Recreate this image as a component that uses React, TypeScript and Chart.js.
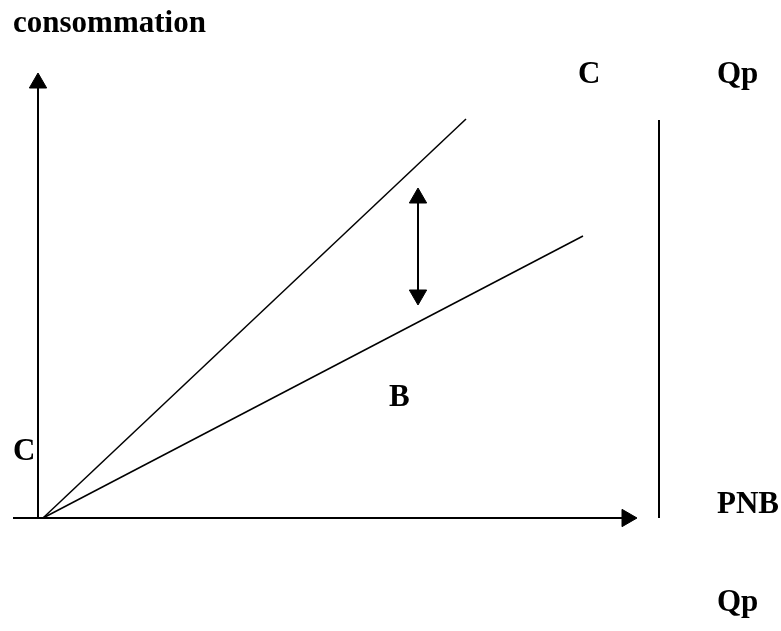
import React, { useEffect, useRef } from "react";
import { Chart, registerables } from "chart.js";

Chart.register(...registerables);

// Conceptual data space: origin at the axes intersection, x = PNB, y = consommation
const X_MIN = -38;
const X_MAX = 743;
const Y_MIN = -113;
const Y_MAX = 518;

const yAxisLine = [{ x: 0, y: 0 }, { x: 0, y: 432 }];
const yAxisHead = [{ x: 0, y: 435 }];
const xAxisLine = [{ x: -25, y: 0 }, { x: 586, y: 0 }];
const xAxisHead = [{ x: 589, y: 0 }];
const consumptionC = [{ x: 5, y: 0 }, { x: 428, y: 399 }];
const consumptionB = [{ x: 5, y: 0 }, { x: 545, y: 282 }];
const gapLine = [{ x: 380, y: 320 }, { x: 380, y: 223 }];
const gapHeadUp = [{ x: 380, y: 320 }];
const gapHeadDown = [{ x: 380, y: 223 }];
const qpLine = [{ x: 621, y: 0 }, { x: 621, y: 398 }];

const labelTexts = ["consommation", "C", "Qp", "B", "C", "PNB", "Qp"];
const labelX = [-25, 540, 679, 351, -25, 679, 679];
const labelY = [486, 435, 435, 112, 58, 5, -93];

const labelPlugin = {
  id: "labels",
  afterDraw(chart: any) {
    const ctx = chart.ctx;
    const xs = chart.scales.x;
    const ys = chart.scales.y;
    ctx.save();
    ctx.fillStyle = "#000";
    ctx.font = "bold 31px 'Liberation Serif', 'Times New Roman', serif";
    ctx.textAlign = "left";
    ctx.textBaseline = "alphabetic";
    labelTexts.forEach((t, i) => {
      ctx.fillText(t, xs.getPixelForValue(labelX[i]), ys.getPixelForValue(labelY[i]));
    });
    ctx.restore();
  },
};

function lineDs(data: any[], width: number) {
  return {
    type: "line" as const,
    data,
    borderColor: "#000",
    borderWidth: width,
    pointRadius: 0,
    fill: false,
    tension: 0,
  };
}

function headDs(data: any[], rotation: number, radius: number) {
  return {
    type: "scatter" as const,
    data,
    pointStyle: "triangle",
    pointRotation: rotation,
    pointRadius: radius,
    backgroundColor: "#000",
    borderColor: "#000",
    borderWidth: 1,
  };
}

export default function App() {
  const ref = useRef<HTMLCanvasElement | null>(null);
  useEffect(() => {
    if (!ref.current) return;
    const chart = new Chart(ref.current, {
      type: "line",
      data: {
        datasets: [
          lineDs(yAxisLine, 2),
          headDs(yAxisHead, 0, 10),
          lineDs(xAxisLine, 2),
          headDs(xAxisHead, 90, 10),
          lineDs(consumptionC, 1.5),
          lineDs(consumptionB, 1.5),
          lineDs(gapLine, 2),
          headDs(gapHeadUp, 0, 10),
          headDs(gapHeadDown, 180, 10),
          lineDs(qpLine, 2),
        ] as any,
      },
      options: {
        responsive: false,
        animation: false,
        layout: { padding: 0, autoPadding: false },
        plugins: { legend: { display: false }, tooltip: { enabled: false }, title: { display: false } },
        scales: {
          x: { type: "linear", min: X_MIN, max: X_MAX, display: false },
          y: { type: "linear", min: Y_MIN, max: Y_MAX, display: false },
        },
        elements: { line: { borderCapStyle: "butt" } },
      },
      plugins: [labelPlugin],
    });
    return () => chart.destroy();
  }, []);
  return (
    <div style={{ position: "absolute", left: 0, top: 0, width: 781, height: 631, background: "#fff" }}>
      <canvas ref={ref} width={781} height={631} style={{ display: "block", width: 781, height: 631 }} />
    </div>
  );
}
